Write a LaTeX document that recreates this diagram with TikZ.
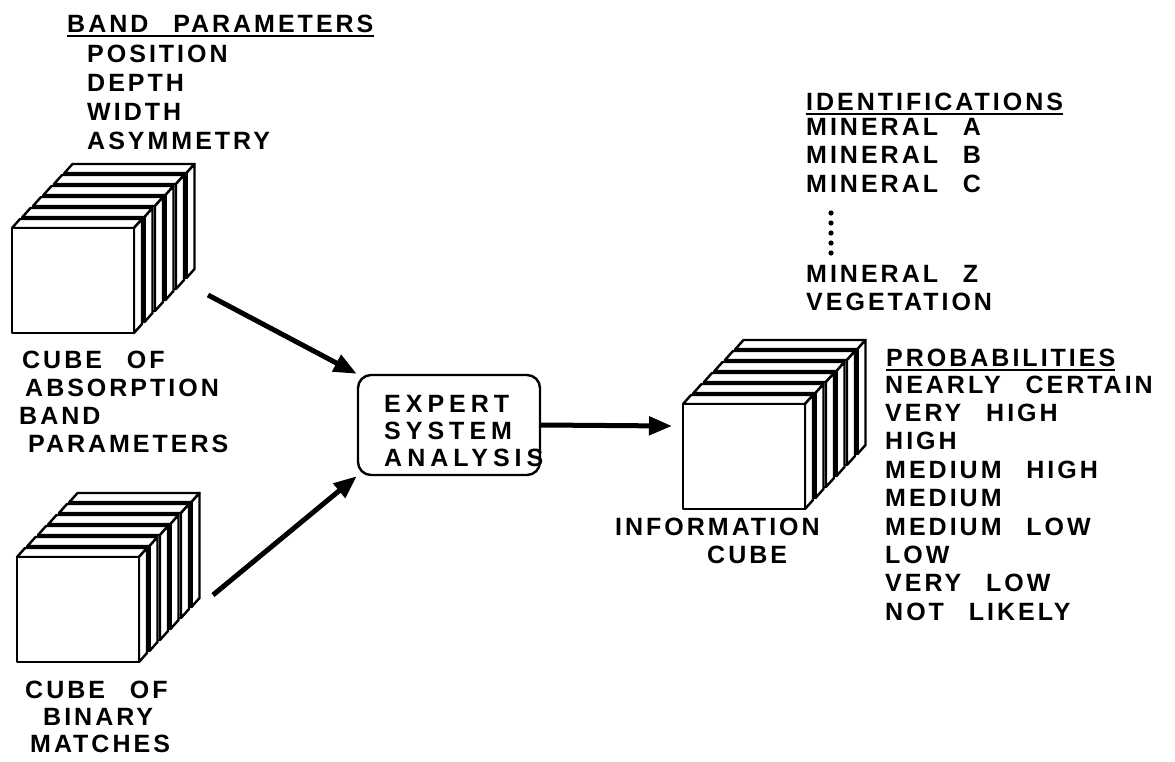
\documentclass[tikz,border=0pt]{standalone}
\usepackage{fontspec}
\setmainfont{Liberation Sans}[LetterSpace=12,WordSpace=2.5]
\usetikzlibrary{arrows.meta}

\begin{document}
\begin{tikzpicture}[x=1pt,y=-1pt,
    lbl/.style={font=\bfseries\fontsize{25}{28}\selectfont, anchor=base west, inner sep=0pt},
    widelbl/.style={lbl, font=\bfseries\fontsize{25}{28}\selectfont\addfontfeatures{LetterSpace=20}},
    slab/.style={draw, fill=white, line width=2.4pt, line join=round},
    uline/.style={line width=2pt},
    conn/.style={line width=5pt, -{Triangle[length=23pt,width=18pt]}},
    expertbox/.style={draw, line width=2.4pt, rounded corners=13pt, minimum width=182pt, minimum height=100pt, inner sep=0pt},
    slabs/.pic={
      \foreach \k in {5,4,...,0}{
        \begin{scope}[shift={(\k*10.5,-\k*11)}]
        \filldraw[slab] (0,0) -- (8,-9) -- (130,-9) -- (122,0) -- cycle;
        \filldraw[slab] (122,0) -- (130,-9) -- (130,96) -- (122,105) -- cycle;
        \filldraw[slab] (0,0) rectangle (122,105);
        \end{scope}
      }
      \coordinate (-in) at (-11,22);
    }]

    \fill[white] (0,0) rectangle (1175,761);
    \useasboundingbox (0,0) rectangle (1175,761);

    % band parameters
    \node[lbl] (bp) at (67,32) {BAND PARAMETERS};
    \draw[uline] ([yshift=-4pt]bp.base west) -- ([yshift=-4pt]bp.base east);
    \foreach \t [count=\i] in {POSITION,DEPTH,WIDTH,ASYMMETRY}
      \node[lbl] (bp\i) at (87,{62+29*(\i-1)}) {\t};

    % the two input cubes
    \pic (abs) at (12,228) {slabs};
    \node[lbl] (abs1) at (22,368) {CUBE OF};
    \node[lbl] (abs2) at (25,396) {ABSORPTION};
    \node[lbl] (abs3) at (19,424) {BAND};
    \node[lbl] (abs4) at (28,452) {PARAMETERS};

    \pic (bin) at (17,557) {slabs};
    \node[lbl] (bin1) at (25,698) {CUBE OF};
    \node[lbl] (bin2) at (43,725) {BINARY};
    \node[lbl] (bin3) at (30,752) {MATCHES};

    % expert system
    \node[expertbox] (expert) at (449,425) {};
    \foreach \t [count=\i] in {EXPERT,SYSTEM,ANALYSIS}
      \node[widelbl] (ex\i) at (384,{412+27*(\i-1)}) {\t};

    % output cube
    \pic (info) at (683,404) {slabs};
    \node[lbl] (info1) at (615,535) {INFORMATION};
    \node[lbl] (info2) at (707,563) {CUBE};

    % identifications
    \node[lbl] (id) at (806,110) {IDENTIFICATIONS};
    \draw[uline] ([yshift=-4pt]id.base west) -- ([yshift=-4pt]id.base east);
    \foreach \t [count=\i] in {MINERAL A,MINERAL B,MINERAL C}
      \node[lbl] (id\i) at (806,{135+28.5*(\i-1)}) {\t};
    \foreach \d in {0,...,4}
      \fill (831,{213+10*\d}) circle (2.6pt);
    \node[lbl] (idz) at (806,282) {MINERAL Z};
    \node[lbl] (idv) at (806,310) {VEGETATION};

    % probabilities
    \node[lbl] (pr) at (886,366) {PROBABILITIES};
    \draw[uline] ([yshift=-4pt]pr.base west) -- ([yshift=-4pt]pr.base east);
    \foreach \t [count=\i] in {NEARLY CERTAIN,VERY HIGH,HIGH,MEDIUM HIGH,MEDIUM,MEDIUM LOW,LOW,VERY LOW,NOT LIKELY}
      \node[lbl] (pr\i) at (885,{393+28.4*(\i-1)}) {\t};

    % connectors
    \coordinate (absout) at (208,295);
    \coordinate (binout) at (213,595);
    \draw[conn] (absout) -- (expert.north west);
    \draw[conn] (binout) -- (expert.south west);
    \draw[conn] (expert.east) -- (info-in);
\end{tikzpicture}
\end{document}
